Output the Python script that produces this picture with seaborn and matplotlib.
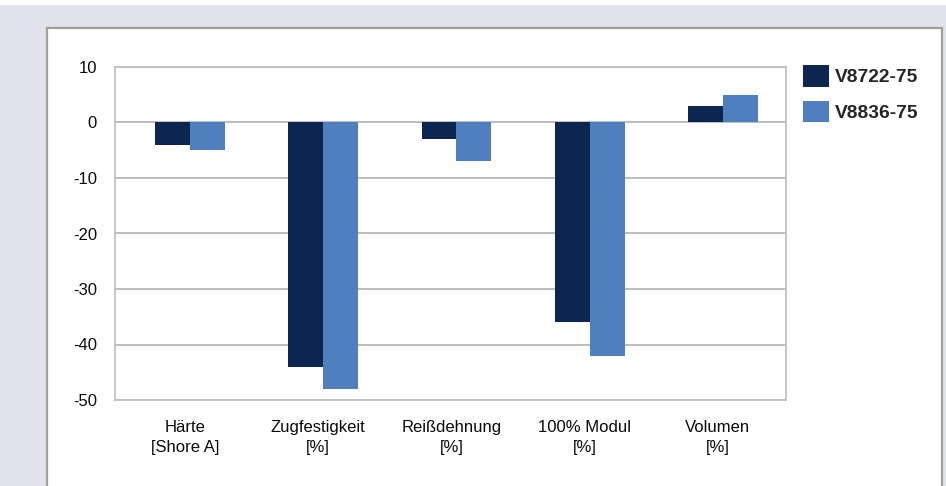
import matplotlib
matplotlib.use("Agg")
import matplotlib.pyplot as plt
from matplotlib.patches import Rectangle, Patch
import matplotlib.transforms as mtransforms
import seaborn as sns
import pandas as pd

categories = ["Härte\n[Shore A]", "Zugfestigkeit\n[%]", "Reißdehnung\n[%]", "100% Modul\n[%]", "Volumen\n[%]"]
series_names = ["V8722-75", "V8836-75"]
v8722 = [-4, -44, -3, -36, 3]
v8836 = [-5, -48, -7, -42, 5]
y_ticks = [10, 0, -10, -20, -30, -40, -50]

colors = ["#0c2650", "#4f7fbf"]

df = pd.DataFrame({
    "Kategorie": categories * 2,
    "Wert": v8722 + v8836,
    "Serie": [series_names[0]] * len(categories) + [series_names[1]] * len(categories),
})

sns.set_theme(style="white")
plt.rcParams["font.family"] = ["Liberation Sans", "DejaVu Sans"]

W, H = 946, 486
fig = plt.figure(figsize=(W / 100, H / 100), dpi=100, facecolor="white")

# lavender backdrop and white panel with a thin grey frame
fig.patches.append(Rectangle((0, 0), 1, 1 - 5 / H, transform=fig.transFigure,
                             facecolor="#e2e2ec", edgecolor="none", zorder=0))
fig.patches.append(Rectangle((47 / W, -0.05), (942 - 47) / W, 1 - 28 / H + 0.05,
                             transform=fig.transFigure, facecolor="white",
                             edgecolor="#a39e98", linewidth=1.6, zorder=1))

ax = fig.add_axes([115 / W, 1 - 400 / H, (786 - 115) / W, (400 - 67) / H])
ax.set_facecolor("white")
ax.set_zorder(2)

sns.barplot(data=df, x="Kategorie", y="Wert", hue="Serie", palette=colors,
            width=0.525, dodge=True, saturation=1, errorbar=None, ax=ax,
            legend=False, linewidth=0, zorder=3)

ax.set_xlim(-0.563, 4.473)
ax.set_ylim(-50, 10)
ax.set_yticks(y_ticks)
ax.set_yticklabels([str(t) for t in y_ticks], fontsize=12, color="#0a0a0a")
ax.tick_params(axis="y", length=0, pad=13)
ax.tick_params(axis="x", length=0, pad=14, labelsize=12, labelcolor="#0a0a0a")
ax.set_xlabel("")
ax.set_ylabel("")

# category labels sit a little left of their bar groups
shift = mtransforms.ScaledTranslation(-5 / 100, -1 / 100, fig.dpi_scale_trans)
for lbl in ax.get_xticklabels():
    lbl.set_transform(lbl.get_transform() + shift)
    lbl.set_linespacing(1.38)

for t in y_ticks:
    ax.axhline(t, color="#bdbdbd", linewidth=1.4, zorder=1)
for s in ax.spines.values():
    s.set_color("#bdbdbd")
    s.set_linewidth(1.2)

handles = [Patch(facecolor=c, edgecolor="none", label=n) for c, n in zip(colors, series_names)]
fig.legend(handles=handles, loc="upper left", bbox_to_anchor=(803 / W, 1 - 65 / H),
           frameon=False, borderpad=0, borderaxespad=0,
           handlelength=1.36, handleheight=1.36, handletextpad=0.31,
           labelspacing=0.73, prop={"weight": "bold", "size": 13.8})

fig.savefig("out.png", dpi=100, facecolor="white")
